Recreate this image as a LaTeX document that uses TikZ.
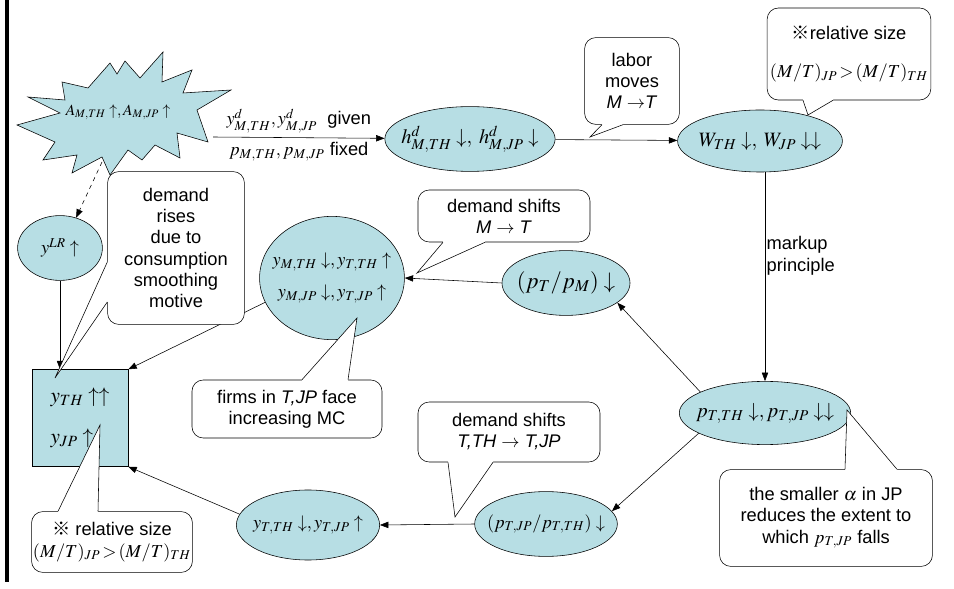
\documentclass[tikz,border=0pt]{standalone}
\usepackage{mathptmx}
\usepackage{fontspec}
\setmainfont{Liberation Sans}
\newfontfamily\markfont{Noto Sans CJK JP}
\definecolor{CellBlue}{RGB}{183,222,228}
\usetikzlibrary{
    shapes.geometric,
    arrows.meta,
    calc,
}

\begin{document}
\begin{tikzpicture}[x=0.025cm, y=-0.025cm, font=\fontsize{13}{15}\selectfont,
        cell/.style={ellipse, draw, fill=CellBlue, inner xsep=-6pt, inner ysep=0pt, align=center},
        note/.style={draw, fill=white, rounded corners=8pt, align=center, inner sep=2pt},
        flow/.style={-{Triangle[length=6pt, width=4.5pt]}},
    ]
        \useasboundingbox (0,0) rectangle (954,589);
        \draw[line width=2.2pt] (7,0) -- (7,582);
        % the shock
        \filldraw[fill=CellBlue] (28,97) -- (65,100) -- (62,82) -- (88,88) -- (110,63) -- (117,74)
            -- (125,61) -- (140,78) -- (163,52) -- (162,82) -- (192,70) -- (183,93) -- (231,90)
            -- (197,110) -- (208,142) -- (177,133) -- (180,158) -- (155,145) -- (142,160)
            -- (128,150) -- (110,175) -- (102,157) -- (72,173) -- (77,155) -- (43,160)
            -- (55,142) -- (17,125) -- (60,113) -- cycle;
        \node[font=\fontsize{11}{13}\selectfont] (shock) at (118,112) {$A_{M,TH}\uparrow, A_{M,JP}\uparrow$};
        \coordinate (shockfoot) at (102,162);
        % ellipses
        \node[cell, minimum width=4.15cm, minimum height=1.62cm, font=\fontsize{14.5}{16}\selectfont] (hd) at (470,139) {$h^d_{M,TH}\downarrow,\; h^d_{M,JP}\downarrow$};
        \node[cell, minimum width=4.12cm, minimum height=1.55cm, font=\fontsize{14.5}{16}\selectfont] (wage) at (760,141) {$W_{TH}\downarrow,\; W_{JP}\downarrow\downarrow$};
        \node[cell, minimum width=4.12cm, minimum height=1.58cm, font=\fontsize{14.5}{16}\selectfont] (ptt) at (765,413) {$p_{T,TH}\downarrow, p_{T,JP}\downarrow\downarrow$};
        \node[cell, minimum width=3.2cm, minimum height=1.62cm, font=\fontsize{16}{18}\selectfont] (ptm) at (566,283) {$(p_T/p_M)\downarrow$};
        \node[cell, minimum width=3.62cm, minimum height=3.08cm] (ymt) at (332,278) {$y_{M,TH}\downarrow, y_{T,TH}\uparrow$\\[8pt]$y_{M,JP}\downarrow, y_{T,JP}\uparrow$};
        \node[cell, minimum width=2.12cm, minimum height=1.62cm] (ylr) at (60,248) {$y^{LR}\uparrow$};
        \node[cell, minimum width=3.58cm, minimum height=1.75cm] (yt) at (308,525) {$y_{T,TH}\downarrow, y_{T,JP}\uparrow$};
        \node[cell, minimum width=3.42cm, minimum height=1.62cm] (pjt) at (546,524) {$(p_{T,JP}/p_{T,TH})\downarrow$};
        \node[draw, fill=CellBlue, minimum width=2.4cm, minimum height=2.42cm, align=left, font=\fontsize{15}{17}\selectfont] (ysum) at (80,418)
            {$y_{TH}\uparrow\uparrow$\\[12pt]$y_{JP}\uparrow$};
        % arrows
        \coordinate (gs) at (213,137);
        \draw[flow] (gs) -- (hd)
            node[midway, above] {$y^d_{M,TH}, y^d_{M,JP}$\ \ given}
            node[midway, below] {$p_{M,TH}, p_{M,JP}$ fixed};
        \draw[flow] (hd) -- (wage);
        \draw[flow] (wage.south -| ptt.north) -- (ptt.north)
            node[pos=0.4, right, align=left, inner sep=1pt] {markup\\principle};
        \draw[flow] (ptt.162) -- (ptm.-21);
        \draw[flow] (ptm.west) -- (ymt.east);
        \draw[flow] (ptt.197) -- (pjt.11);
        \draw[flow] (pjt.west) -- (yt.east);
        \draw[flow] (yt.171) -- (ysum.south east);
        \draw[flow] (ymt.200) -- (ysum.north east);
        \draw[flow] (ylr.south) -- (ylr.south |- ysum.north);
        \draw[flow, dashed] (shockfoot) -- (ylr.62);
        % callouts
        \node[note, minimum width=2.37cm, minimum height=2.17cm] (labor) at (632,81) {labor\\moves\\\textit{M} $\rightarrow$\textit{T}};
        \fill[white] ($(labor.south)+(-30,-2)$) -- ($(labor.south)+(-30,0)$) -- (590,137) -- ($(labor.south)+(-9,0)$) -- ($(labor.south)+(-9,-2)$) -- cycle;
        \draw ($(labor.south)+(-30,0)$) -- (590,137) -- ($(labor.south)+(-9,0)$);
        \node[note, minimum width=3.8cm, minimum height=2.3cm] (relsz) at (849,54) {{\markfont ※}relative size\\[12pt]$(M/T)_{JP}\!>\!(M/T)_{TH}$};
        \fill[white] ($(relsz.south)+(-46,-2)$) -- ($(relsz.south)+(-46,0)$) -- (808,115) -- ($(relsz.south)+(-16,0)$) -- ($(relsz.south)+(-16,-2)$) -- cycle;
        \draw ($(relsz.south)+(-46,0)$) -- (808,115) -- ($(relsz.south)+(-16,0)$);
        \node[note, minimum width=4.3cm, minimum height=1.3cm] (dmt) at (504,216) {demand shifts\\\textit{M} $\rightarrow$ \textit{T}};
        \fill[white] ($(dmt.south)+(-61,-2)$) -- ($(dmt.south)+(-61,0)$) -- (417,273) -- ($(dmt.south)+(-19,0)$) -- ($(dmt.south)+(-19,-2)$) -- cycle;
        \draw ($(dmt.south)+(-61,0)$) -- (417,273) -- ($(dmt.south)+(-19,0)$);
        \node[note, minimum width=3.42cm, minimum height=3.82cm] (rises) at (176,248) {demand\\rises\\due to\\consumption\\smoothing\\motive};
        \fill[white] ($(rises.west)+(2,14)$) -- ($(rises.west)+(0,14)$) -- (55,378) -- ($(rises.west)+(0,54)$) -- ($(rises.west)+(2,54)$) -- cycle;
        \draw ($(rises.west)+(0,14)$) -- (55,378) -- ($(rises.west)+(0,54)$);
        \node[note, minimum width=4.75cm, minimum height=1.45cm] (firms) at (287,409) {firms in \textit{T,JP} face\\increasing MC};
        \fill[white] ($(firms.north)+(15,2)$) -- ($(firms.north)+(15,0)$) -- (357,318) -- ($(firms.north)+(61,0)$) -- ($(firms.north)+(61,2)$) -- cycle;
        \draw ($(firms.north)+(15,0)$) -- (357,318) -- ($(firms.north)+(61,0)$);
        \node[note, minimum width=4.55cm, minimum height=1.5cm] (dtt) at (509,432) {demand shifts\\\textit{T,TH} $\rightarrow$ \textit{T,JP}};
        \fill[white] ($(dtt.south)+(-61,-2)$) -- ($(dtt.south)+(-61,0)$) -- (455,517) -- ($(dtt.south)+(-16,0)$) -- ($(dtt.south)+(-16,-2)$) -- cycle;
        \draw ($(dtt.south)+(-61,0)$) -- (455,517) -- ($(dtt.south)+(-16,0)$);
        \node[note, minimum width=5.32cm, minimum height=2.42cm] (alpha) at (826,518) {the smaller $\alpha$ in JP\\reduces the extent to\\which $p_{T,JP}$ falls};
        \fill[white] ($(alpha.north)+(19,2)$) -- ($(alpha.north)+(19,0)$) -- (847,410) -- ($(alpha.north)+(71,0)$) -- ($(alpha.north)+(71,2)$) -- cycle;
        \draw ($(alpha.north)+(19,0)$) -- (847,410) -- ($(alpha.north)+(71,0)$);
        \node[note, minimum width=4cm, minimum height=1.52cm, inner sep=1pt] (relsz2) at (112,542) {{\markfont ※} relative size\\$(M/T)_{JP}\!>\!(M/T)_{TH}$};
        \fill[white] ($(relsz2.north)+(-54,2)$) -- ($(relsz2.north)+(-54,0)$) -- (100,425) -- ($(relsz2.north)+(-14,0)$) -- ($(relsz2.north)+(-14,2)$) -- cycle;
        \draw ($(relsz2.north)+(-54,0)$) -- (100,425) -- ($(relsz2.north)+(-14,0)$);
    \end{tikzpicture}
\end{document}
